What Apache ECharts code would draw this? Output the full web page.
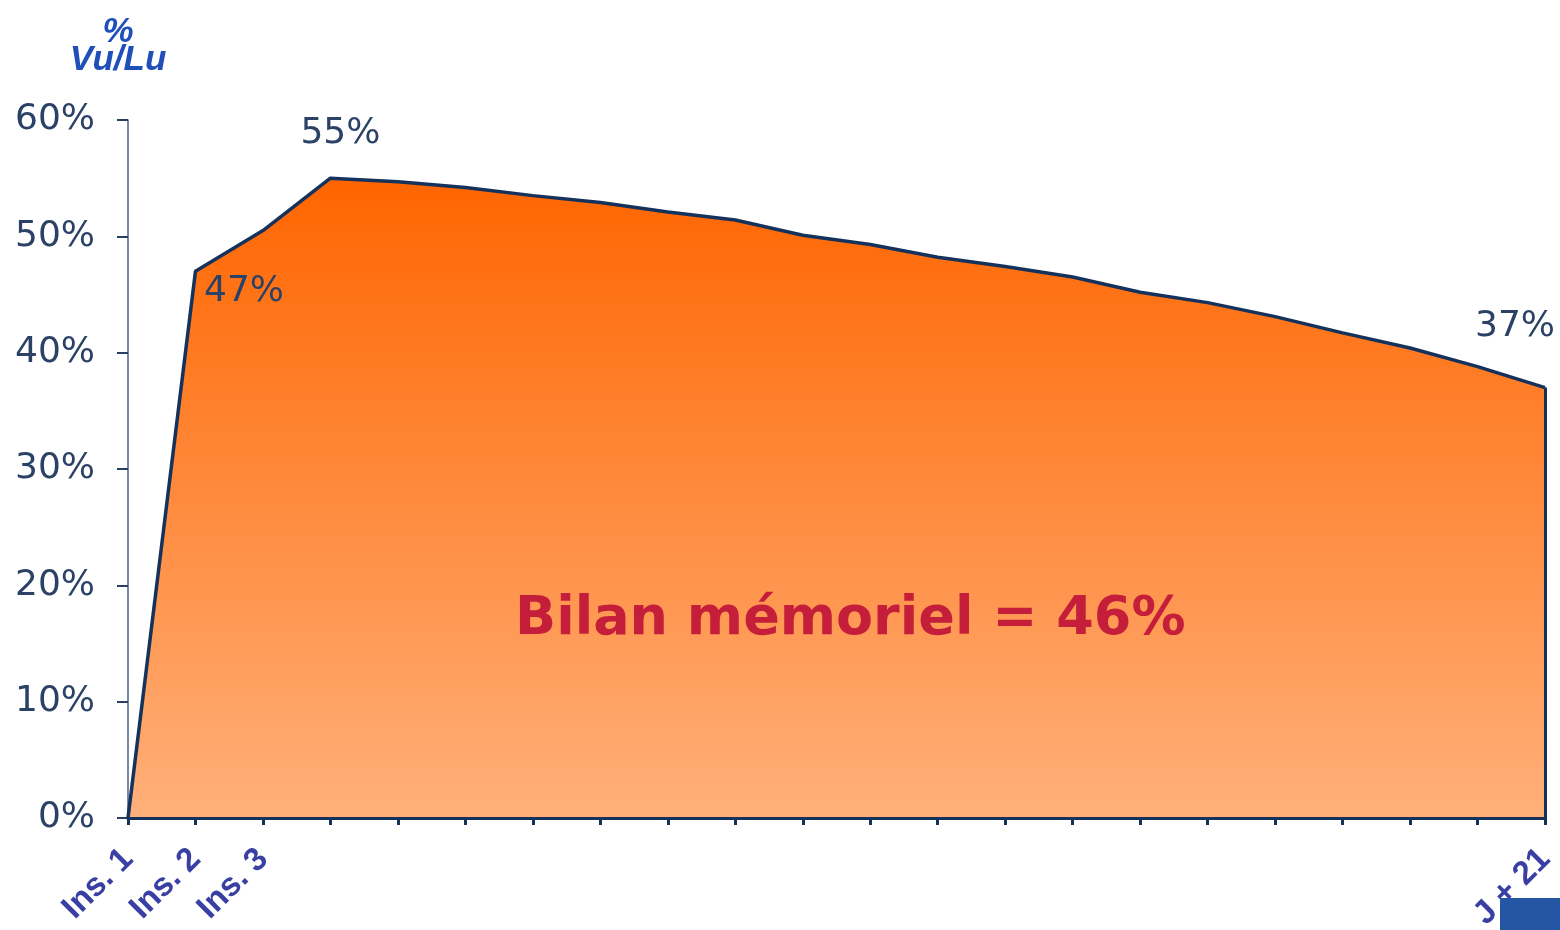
<!DOCTYPE html>
<html lang="fr">
<head>
    <meta charset="UTF-8">
    <title>Bilan mémoriel</title>
    <script src="https://cdn.jsdelivr.net/npm/echarts@6/dist/echarts.min.js"></script>
    <style>
        * { margin: 0; padding: 0; box-sizing: border-box; }
        body { background: #ffffff; }
        #chart { width: 1560px; height: 930px; }
    </style>
</head>
<body>
    <div id="chart"></div>

    <script>
        // x categories: insertions then days up to J + 21
        const categories = [
            'Ins. 1', 'Ins. 2', 'Ins. 3', '', '', '', '', '', '', '', '',
            '', '', '', '', '', '', '', '', '', '', 'J + 21'
        ];

        // % vu/lu at each step
        const values = [
            0, 47, 50.5, 55, 54.7, 54.2, 53.5, 52.9, 52.1, 51.4, 50.1,
            49.3, 48.2, 47.4, 46.5, 45.2, 44.3, 43.1, 41.7, 40.4, 38.8, 37
        ];

        const yMin = 0;
        const yMax = 60;
        const yStep = 10;

        const labelledPoints = [1, 3, 21];
        const titleText = 'Bilan mémoriel = 46%';
        const axisName = '%\nVu/Lu';

        const navy = '#15325c';
        const labelColor = '#2b4266';

        // where each value label sits relative to its point
        const labelPlacement = {
            1: { position: 'right', distance: 8, offset: [0, 20] },
            3: { position: 'top', distance: 26, offset: [10, 0] },
            21: { position: 'top', distance: 42, offset: [-30, 0] }
        };

        const chart = echarts.init(document.getElementById('chart'));

        const seriesData = values.map((v, i) => {
            if (!labelledPoints.includes(i)) return v;
            return {
                value: v,
                label: Object.assign({ show: true }, labelPlacement[i])
            };
        });

        const last = values.length - 1;

        const option = {
            animation: false,
            title: {
                text: titleText,
                left: 510,
                top: 588,
                textStyle: {
                    fontFamily: 'DejaVu Sans',
                    fontWeight: 'bold',
                    fontSize: 54,
                    color: '#c41e3a',
                    textShadowColor: 'rgba(255,255,255,0.9)',
                    textShadowOffsetX: 2,
                    textShadowOffsetY: 2,
                    textShadowBlur: 0
                }
            },
            grid: {
                left: 128,
                right: 15,
                top: 120,
                bottom: 112,
                containLabel: false,
                outerBoundsMode: 'none'
            },
            xAxis: {
                type: 'category',
                data: categories,
                boundaryGap: false,
                z: 5,
                axisLine: { lineStyle: { color: navy, width: 3 } },
                axisTick: {
                    show: true,
                    interval: 0,
                    length: 7,
                    lineStyle: { color: navy, width: 3 }
                },
                axisLabel: {
                    interval: 0,
                    rotate: 45,
                    margin: 36,
                    fontFamily: 'Liberation Sans',
                    fontWeight: 'bold',
                    fontSize: 33,
                    color: '#3a3fa3'
                },
                splitLine: { show: false }
            },
            yAxis: {
                type: 'value',
                min: yMin,
                max: yMax,
                interval: yStep,
                name: axisName,
                nameLocation: 'end',
                nameGap: 46,
                nameTextStyle: {
                    fontFamily: 'Liberation Sans',
                    fontStyle: 'italic',
                    fontWeight: 'bold',
                    fontSize: 35,
                    lineHeight: 28,
                    color: '#1f4fb8',
                    align: 'center',
                    padding: [0, 20, 0, 0]
                },
                axisLine: { show: true, lineStyle: { color: '#4a6285', width: 1.5 } },
                axisTick: {
                    show: true,
                    length: 11,
                    lineStyle: { color: '#2a3f5f', width: 2 }
                },
                axisLabel: {
                    margin: 33,
                    formatter: '{value}%',
                    fontFamily: 'DejaVu Sans',
                    fontSize: 36,
                    color: labelColor
                },
                splitLine: { show: false }
            },
            series: [{
                type: 'line',
                data: seriesData,
                symbol: 'circle',
                symbolSize: 1,
                showSymbol: true,
                itemStyle: { color: 'rgba(0,0,0,0)' },
                lineStyle: { color: navy, width: 3.5 },
                label: {
                    show: false,
                    formatter: p => Math.round(p.value) + '%',
                    fontFamily: 'DejaVu Sans',
                    fontSize: 36,
                    color: labelColor
                },
                areaStyle: {
                    opacity: 1,
                    color: new echarts.graphic.LinearGradient(0, 0, 0, 1, [
                        { offset: 0, color: '#ff6500' },
                        { offset: 1, color: '#ffb07a' }
                    ])
                },
                markLine: {
                    silent: true,
                    symbol: 'none',
                    label: { show: false },
                    lineStyle: { color: navy, width: 3, type: 'solid' },
                    data: [[
                        { coord: [last, yMin] },
                        { coord: [last, values[last]] }
                    ]]
                }
            }],
            graphic: [{
                type: 'rect',
                right: 0,
                bottom: 0,
                shape: { width: 60, height: 32 },
                style: { fill: '#2556a3' }
            }]
        };

        chart.setOption(option);
    </script>
</body>
</html>
